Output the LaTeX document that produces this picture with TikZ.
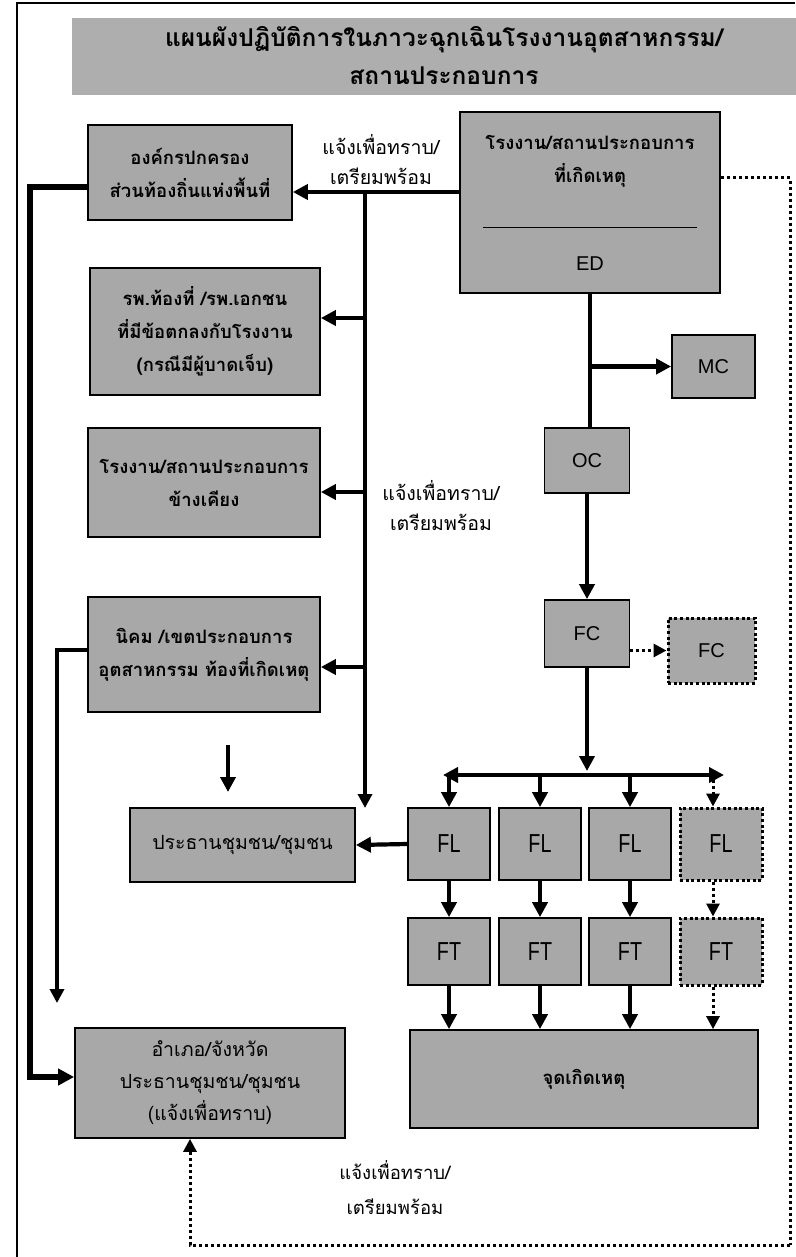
\documentclass[tikz,border=0pt]{standalone}
\usepackage{fontspec}
\setmainfont{Liberation Sans}
\newfontfamily\thai[Script=Thai]{Loma}
\usetikzlibrary{arrows.meta}
\definecolor{boxgray}{RGB}{168,168,168}
\definecolor{bannergray}{RGB}{174,174,174}
\begin{document}
\begin{tikzpicture}[x=1pt,y=-1pt,
  box/.style={draw=black, line width=1.7pt, fill=boxgray, inner sep=0pt, align=center},
  dbox/.style={box, line width=3pt, dash pattern=on 3pt off 2.6pt},
  thaitxt/.style={font=\thai\bfseries\fontsize{18.5}{33}\selectfont},
  thaireg/.style={font=\thai\fontsize{19.5}{32}\selectfont},
  lbl/.style={font=\thai\fontsize{19.5}{30}\selectfont, align=center, inner sep=0pt},
  lat/.style={font=\fontsize{20}{22}\selectfont},
  latn/.style={font=\fontsize{26}{27}\selectfont},
  conn/.style={line width=4.2pt, -{Triangle[length=15pt,width=15pt]}},
  thin conn/.style={line width=3.4pt, -{Triangle[length=14pt,width=14pt]}},
  heavy conn/.style={line width=5.5pt, -{Triangle[length=16pt,width=16pt]}},
  dconn/.style={line width=3pt, dash pattern=on 3pt off 3pt, -{Triangle[length=13pt,width=13pt]}},
  dline/.style={line width=3pt, dash pattern=on 3pt off 3pt}
]
\useasboundingbox (0,0) rectangle (795,1257);
% outer frame
\draw[line width=1.4pt] (17,1257) -- (17,3) -- (795,3);
% banner
\fill[bannergray] (72,18) rectangle (798,95);
\node[font=\thai\bfseries\fontsize{24.5}{38}\selectfont, align=center, inner sep=0pt] (title) at (444,56)
  {แผนผังปฏิบัติการในภาวะฉุกเฉินโรงงานอุตสาหกรรม/\\สถานประกอบการ};

% left column boxes
\node[box, thaitxt, minimum width=204pt, minimum height=95pt] (A) at (190,172.5)
  {องค์กรปกครอง\\ส่วนท้องถิ่นแห่งพื้นที่};
\node[box, thaitxt, minimum width=230pt, minimum height=127pt] (B) at (205,331.5)
  {รพ.ท้องที่ /รพ.เอกชน\\ที่มีข้อตกลงกับโรงงาน\\(กรณีมีผู้บาดเจ็บ)};
\node[box, thaitxt, minimum width=232pt, minimum height=109pt] (C) at (204,482.5)
  {โรงงาน/สถานประกอบการ\\ข้างเคียง};
\node[box, thaitxt, minimum width=232pt, minimum height=115pt] (D) at (204,654.5)
  {นิคม /เขตประกอบการ\\อุตสาหกรรม ท้องที่เกิดเหตุ};
\node[box, thaireg, minimum width=225pt, minimum height=74pt] (E) at (242.5,845)
  {ประธานชุมชน/ชุมชน};
\node[box, thaireg, minimum width=270pt, minimum height=110pt] (F) at (210,1083)
  {อำเภอ/จังหวัด\\ประธานชุมชน/ชุมชน\\(แจ้งเพื่อทราบ)};

% right column
\node[box, minimum width=260pt, minimum height=181pt] (ED) at (590,202.5) {};
\node[thaitxt, align=center, inner sep=0pt] (EDt) at (590,161) {โรงงาน/สถานประกอบการ\\ที่เกิดเหตุ};
\draw[line width=1pt] (483,228) -- (697,228);
\node[font=\fontsize{20}{22}\selectfont, inner sep=0pt] (EDl) at (590,264) {ED};

\node[box, lat, minimum width=83pt, minimum height=63pt] (MC) at (713.5,366.5) {MC};
\node[box, lat, minimum width=85pt, minimum height=65pt] (OC) at (587,460.5) {OC};
\node[box, lat, minimum width=85pt, minimum height=67pt] (FC) at (587,633.5) {FC};
\node[dbox, lat, minimum width=87pt, minimum height=65pt] (FC2) at (711.5,650.5) {FC};

\foreach \i/\x in {1/449,2/540,3/630}{
  \node[box, latn, minimum width=82pt, minimum height=72pt] (FL\i) at (\x,844) {\scalebox{0.76}[1]{FL}};
  \node[box, latn, minimum width=82pt, minimum height=67pt] (FT\i) at (\x,951.5) {\scalebox{0.76}[1]{FT}};
}
\node[dbox, latn, minimum width=82pt, minimum height=72pt] (FL4) at (721,844) {\scalebox{0.76}[1]{FL}};
\node[dbox, latn, minimum width=82pt, minimum height=67pt] (FT4) at (721,951.5) {\scalebox{0.76}[1]{FT}};

\node[box, thaitxt, minimum width=348pt, minimum height=98pt] (J) at (584,1079) {จุดเกิดเหตุ};

% labels
\node[lbl] (L1) at (381,160) {แจ้งเพื่อทราบ/\\เตรียมพร้อม};
\node[lbl] (L2) at (441,506) {แจ้งเพื่อทราบ/\\เตรียมพร้อม};
\node[lbl, font=\thai\fontsize{18.5}{35}\selectfont] (L3) at (395,1188) {แจ้งเพื่อทราบ/\\เตรียมพร้อม};

% coordinates
\coordinate (bt) at (365,192);
\coordinate (bb) at (365,808);
\coordinate (jb) at (365,318);
\coordinate (jc) at (365,492);
\coordinate (jd) at (365,667);
\coordinate (barL) at (443,775);
\coordinate (barR) at (724,775);
\coordinate (barc) at (587,771);
\coordinate (lc) at (30,600);
\coordinate (dc) at (57,1003);
\coordinate (fa1) at (228,745);
\coordinate (fa2) at (228,792);
\coordinate (rc) at (790,1245);

% connectors from ED
\draw[conn] ([yshift=10.5pt]ED.west) -- ([yshift=10.5pt]ED.west -| A.east);
\draw[thin conn] (bt) -- (bb);
\draw[conn] (jb) -- (jb -| B.east);
\draw[conn] (jc) -- (jc -| C.east);
\draw[conn] (jd) -- (jd -| D.east);
\draw[line width=4.2pt] (ED.south) -- (ED.south |- OC.north);
\draw[conn] (ED.south |- MC.west) -- (MC.west);
\draw[conn] (OC.south) -- (FC.north);
\draw[dconn] (FC.east |- FC2.west) -- (FC2.west);
\draw[conn] (FC.south) -- (barc);
\draw[line width=4.2pt, {Triangle[length=15pt,width=15pt]}-{Triangle[length=15pt,width=15pt]}] (barL) -- (barR);
\foreach \i in {1,2,3}{
  \draw[conn] (FL\i.north |- barL) -- (FL\i.north);
  \draw[conn] (FL\i.south) -- (FT\i.north);
  \draw[conn] (FT\i.south) -- (FT\i.south |- J.north);
}
\draw[dconn] ([xshift=-8pt,yshift=-5pt]FL4.north |- barL) -- ([xshift=-8pt]FL4.north);
\draw[dconn] ([xshift=-8pt]FL4.south) -- ([xshift=-8pt]FT4.north);
\draw[dconn] ([xshift=-8pt]FT4.south) -- ([xshift=-8pt]FT4.south |- J.north);
\draw[conn] (FL1.west) -- (E.east);
\draw[conn] (fa1) -- (fa2);

% left side lines
\draw[heavy conn] ([yshift=-14.5pt]A.west) -| (lc) |- ([yshift=6pt]F.west);
\draw[thin conn] ([yshift=4.5pt]D.west) -| (dc);

% dotted return
\draw[dline] ([yshift=24.5pt]ED.east) -| (rc);
\draw[dconn] (rc) -| ([xshift=-20pt]F.south);
\end{tikzpicture}
\end{document}
